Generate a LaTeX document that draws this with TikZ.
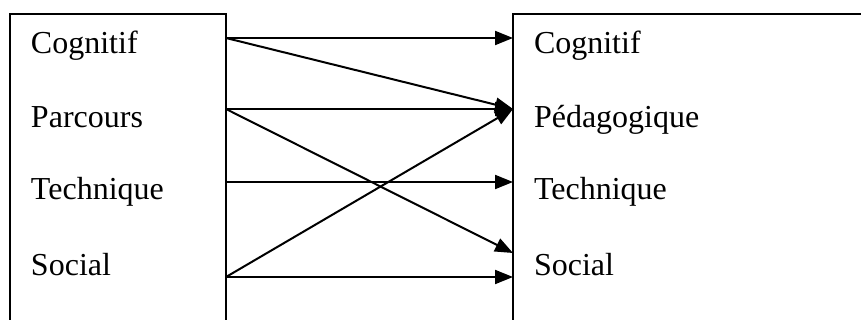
\documentclass[tikz,border=0pt]{standalone}
\usepackage{fontspec}
\setmainfont{Liberation Serif}
\usetikzlibrary{arrows.meta}

\begin{document}
\begin{tikzpicture}[x=0.5pt,y=-0.5pt,line width=1pt]
		\useasboundingbox (0,0) rectangle (861,320);
		\clip (0,0) rectangle (861,320);
		% the two boxes (open at the bottom and the right)
		\draw (10,14) rectangle (226,340);
		\draw (513,14) rectangle (880,340);
		%
		\coordinate (L1) at (226,38);
		\coordinate (L2) at (226,109);
		\coordinate (L3) at (226,182);
		\coordinate (L4) at (226,277);
		\coordinate (R1) at (513,38);
		\coordinate (R2) at (513,109);
		\coordinate (R3) at (513,182);
		\coordinate (R4) at (513,277);
		\coordinate (R4') at (513,253);
		%
		\begin{scope}[every node/.style={anchor=base west,inner sep=0pt,font=\fontsize{16}{19}\selectfont}]
		\node (cogL) at (30,54) {Cognitif};
		\node (parL) at (30,128) {Parcours};
		\node (tecL) at (30,200) {Technique};
		\node (socL) at (30,275) {Social};
		\node (cogR) at (533,54) {Cognitif};
		\node (pedR) at (533,128) {Pédagogique};
		\node (tecR) at (533,200) {Technique};
		\node (socR) at (533,275) {Social};
		\end{scope}
		%
		\path[->,>={Triangle[length=9pt,width=7pt]}]
		(L1) edge (R1)
		(L1) edge (R2)
		(L2) edge (R2)
		(L2) edge (R4')
		(L3) edge (R3)
		(L4) edge (R2)
		(L4) edge (R4);
	\end{tikzpicture}
\end{document}
